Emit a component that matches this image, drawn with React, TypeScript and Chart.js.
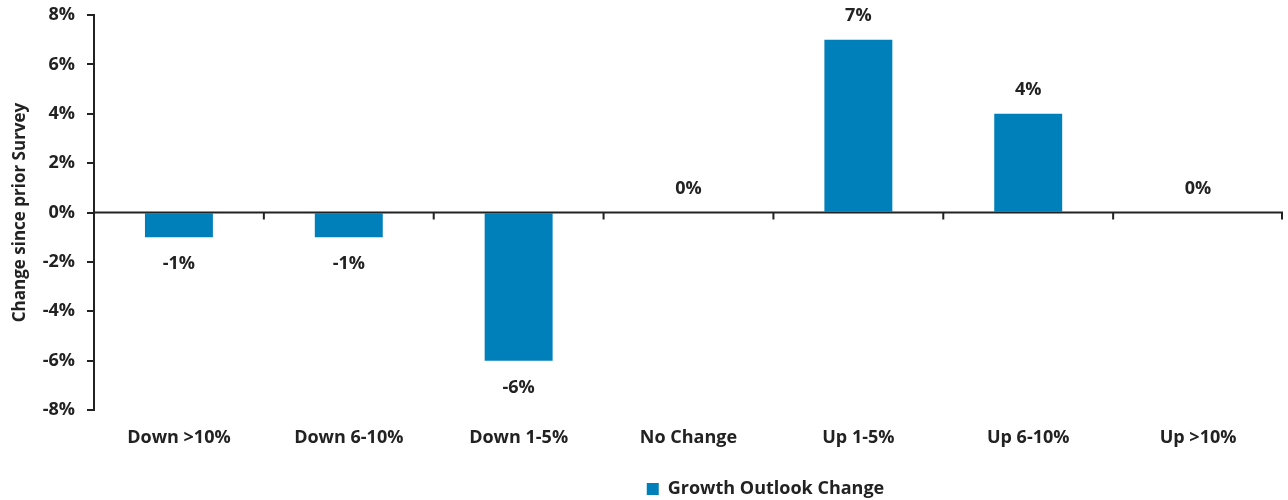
import React, { useEffect, useRef } from "react";
import { Chart, registerables } from "chart.js";

Chart.register(...registerables);

const categories = ["Down >10%", "Down 6-10%", "Down 1-5%", "No Change", "Up 1-5%", "Up 6-10%", "Up >10%"];
const growthValues = [-1, -1, -6, 0, 7, 4, 0];
const seriesLabel = "Growth Outlook Change";
const yTitle = "Change since prior Survey";

const FONT = "'Open Sans', 'Noto Sans', sans-serif";
const TEXT = "#222222";
const BAR = "#0080BA";
const LEGEND_SHIFT = 124;

const legendShiftPlugin = {
  id: "legendShift",
  afterLayout(chart: any) {
    const lg = chart.legend;
    if (lg) {
      lg.left += LEGEND_SHIFT;
      lg.right += LEGEND_SHIFT;
    }
  },
};

const zeroAxisPlugin = {
  id: "zeroAxis",
  afterDatasetsDraw(chart: any) {
    const { ctx, chartArea, scales } = chart;
    const y0 = scales.y.getPixelForValue(0);
    const xs = scales.x;
    ctx.save();
    ctx.strokeStyle = TEXT;
    ctx.lineWidth = 2;
    ctx.beginPath();
    ctx.moveTo(chartArea.left, y0);
    ctx.lineTo(chartArea.right, y0);
    for (let i = 0; i < categories.length; i++) {
      const c = xs.getPixelForValue(i);
      const b = i < categories.length - 1 ? (c + xs.getPixelForValue(i + 1)) / 2 : chartArea.right - 1;
      ctx.moveTo(b, y0);
      ctx.lineTo(b, y0 + 7);
    }
    ctx.stroke();
    const meta = chart.getDatasetMeta(0);
    ctx.fillStyle = TEXT;
    ctx.font = `bold 18px ${FONT}`;
    ctx.textAlign = "center";
    ctx.textBaseline = "middle";
    meta.data.forEach((bar: any, i: number) => {
      const v = growthValues[i];
      const yv = scales.y.getPixelForValue(v);
      const y = v < 0 ? yv + 27 : yv - 24;
      ctx.fillText(`${v}%`, bar.x, y);
    });
    ctx.restore();
  },
};

export default function App() {
  const ref = useRef<HTMLCanvasElement | null>(null);
  useEffect(() => {
    document.body.style.margin = "0";
    const chart = new Chart(ref.current!, {
      type: "bar",
      data: {
        labels: categories,
        datasets: [
          {
            label: seriesLabel,
            data: growthValues,
            backgroundColor: BAR,
            barPercentage: 0.4,
            categoryPercentage: 1,
          },
        ],
      },
      plugins: [zeroAxisPlugin, legendShiftPlugin],
      options: {
        animation: false,
        responsive: true,
        maintainAspectRatio: false,
        layout: { padding: { top: 0, right: 5, left: 0, bottom: -8 } },
        plugins: {
          tooltip: { enabled: false },
          legend: {
            position: "bottom",
            labels: {
              color: TEXT,
              font: { family: FONT, size: 18, weight: "bold" },
              boxWidth: 12,
              boxHeight: 12,
              padding: 4,
            },
          },
        },
        scales: {
          x: {
            grid: { display: false },
            border: { display: false },
            ticks: {
              color: TEXT,
              font: { family: FONT, size: 18, weight: "bold" },
              padding: 9,
            },
            afterFit: (s: any) => {
              s.height = 66;
            },
          },
          y: {
            min: -8,
            max: 8,
            ticks: {
              stepSize: 2,
              color: TEXT,
              font: { family: FONT, size: 18, weight: "bold" },
              padding: 12,
              callback: (v: any) => `${v}%`,
            },
            grid: { drawOnChartArea: false, drawTicks: true, tickLength: 7, color: TEXT, lineWidth: 2 },
            border: { display: true, color: TEXT, width: 2 },
            title: {
              display: true,
              text: yTitle,
              color: TEXT,
              font: { family: FONT, size: 17, weight: "bold" },
              padding: { top: 10, bottom: 4 },
            },
            afterFit: (s: any) => {
              s.width = 94;
              s.paddingTop = 15;
              s.paddingBottom = 0;
            },
          },
        },
      },
    });
    return () => chart.destroy();
  }, []);
  return (
    <div style={{ width: "1288px", height: "500px", position: "relative" }}>
      <canvas ref={ref} />
    </div>
  );
}
